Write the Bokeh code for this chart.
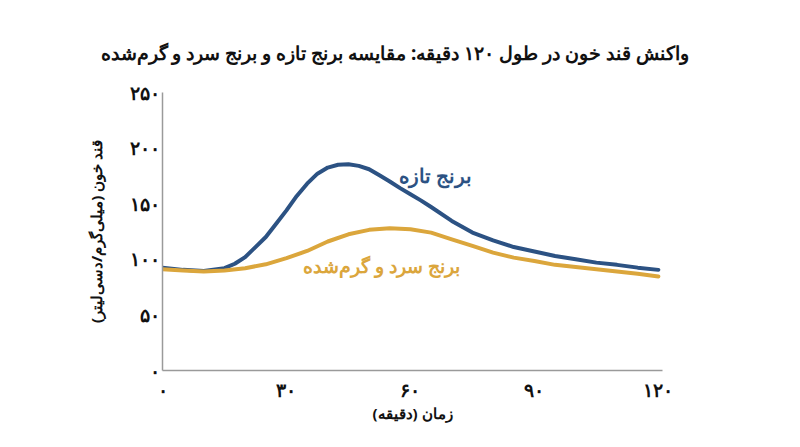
from bokeh.plotting import figure
from bokeh.models import Range1d, FixedTicker, Label
from bokeh.embed import file_html
from bokeh.resources import INLINE

# minutes after eating
fresh_min = [0, 5, 10, 15, 17.5, 20, 22.5, 25, 27.5, 30, 32.5, 35, 37.5, 40, 42.5, 45,
             47.5, 50, 52.5, 55, 57.5, 60, 62.5, 65, 70, 75, 80, 85, 90, 95, 100,
             105, 110, 115, 120]
# blood glucose, mg/dL
fresh_rice = [92.5, 90.5, 89.5, 92, 96, 102, 111, 120, 132, 144, 157, 168, 177, 182.5, 185, 185.5,
              184, 181, 175.5, 170, 164, 158.5, 153, 147, 134.5, 124, 117, 111, 107, 103, 100,
              97, 95, 92.5, 90.5]

reheated_min = [0, 5, 10, 15, 20, 25, 30, 35, 40, 45, 50, 55, 60,
                65, 70, 75, 80, 85, 90, 95, 100, 105, 110, 115, 120]
reheated_rice = [91, 90, 89, 90, 92, 95.5, 101, 107.5, 116, 122.5, 126.5, 128, 127,
                 124, 118, 112, 106, 101.5, 98.5, 95, 93, 91, 89, 87, 84.5]

x_ticks = [0, 30, 60, 90, 120]
x_tick_labels = ["۰", "۳۰", "۶۰", "۹۰", "۱۲۰"]
y_ticks = [0, 50, 100, 150, 200, 250]
y_tick_labels = ["۰", "۵۰", "۱۰۰", "۱۵۰", "۲۰۰", "۲۵۰"]

title_txt = "واکنش قند خون در طول ۱۲۰ دقیقه: مقایسه برنج تازه و برنج سرد و گرم‌شده"
x_title = "زمان (دقیقه)"
y_title = "قند خون (میلی‌گرم/دسی‌لیتر)"
fresh_name = "برنج تازه"
reheated_name = "برنج سرد و گرم‌شده"

FONT = "Noto Sans"
BLUE = "#2c5283"
GOLD = "#dba63c"

p = figure(frame_width=500, frame_height=278,
           x_range=Range1d(0, 121), y_range=Range1d(0, 250),
           output_backend="svg", toolbar_location=None,
           min_border_left=162, min_border_right=128,
           min_border_top=92, min_border_bottom=69)
p.outline_line_color = None
p.grid.grid_line_color = None

p.title.text = title_txt
p.title.text_font = FONT
p.title.text_font_size = "19px"
p.title.text_font_style = "bold"
p.title.text_color = "#111111"
p.title.align = "left"
p.title.vertical_align = "top"
p.title.offset = -62
p.title.standoff = 50

p.xaxis.ticker = FixedTicker(ticks=x_ticks)
p.xaxis.major_label_overrides = dict(zip(x_ticks, x_tick_labels))
p.yaxis.ticker = FixedTicker(ticks=y_ticks)
p.yaxis.major_label_overrides = dict(zip(y_ticks, y_tick_labels))

p.xaxis.axis_label = x_title
p.yaxis.axis_label = y_title
for ax in (p.xaxis, p.yaxis):
    ax.axis_line_color = "#9a9a9a"
    ax.axis_line_width = 1.5
    ax.major_tick_line_color = None
    ax.minor_tick_line_color = None
    ax.major_label_text_font = FONT
    ax.major_label_text_font_size = "19px"
    ax.major_label_text_font_style = "bold"
    ax.major_label_text_color = "#111111"
    ax.axis_label_text_font = FONT
    ax.axis_label_text_font_size = "15px"
    ax.axis_label_text_font_style = "bold"
    ax.axis_label_text_color = "#111111"
p.xaxis.major_label_standoff = 0
p.xaxis.axis_label_standoff = -3
p.yaxis.major_label_standoff = -3
p.yaxis.axis_label_standoff = 21

p.line(fresh_min, fresh_rice, line_color=BLUE, line_width=4, line_cap="round", line_join="round")
p.line(reheated_min, reheated_rice, line_color=GOLD, line_width=4, line_cap="round", line_join="round")

p.add_layout(Label(x=66, y=175, text=fresh_name, text_align="center", text_baseline="middle",
                   text_font=FONT, text_font_size="20px", text_font_style="bold", text_color=BLUE))
p.add_layout(Label(x=53, y=94, text=reheated_name, text_align="center", text_baseline="middle",
                   text_font=FONT, text_font_size="19px", text_font_style="bold", text_color=GOLD))

open("out.html", "w").write(file_html(p, INLINE))
